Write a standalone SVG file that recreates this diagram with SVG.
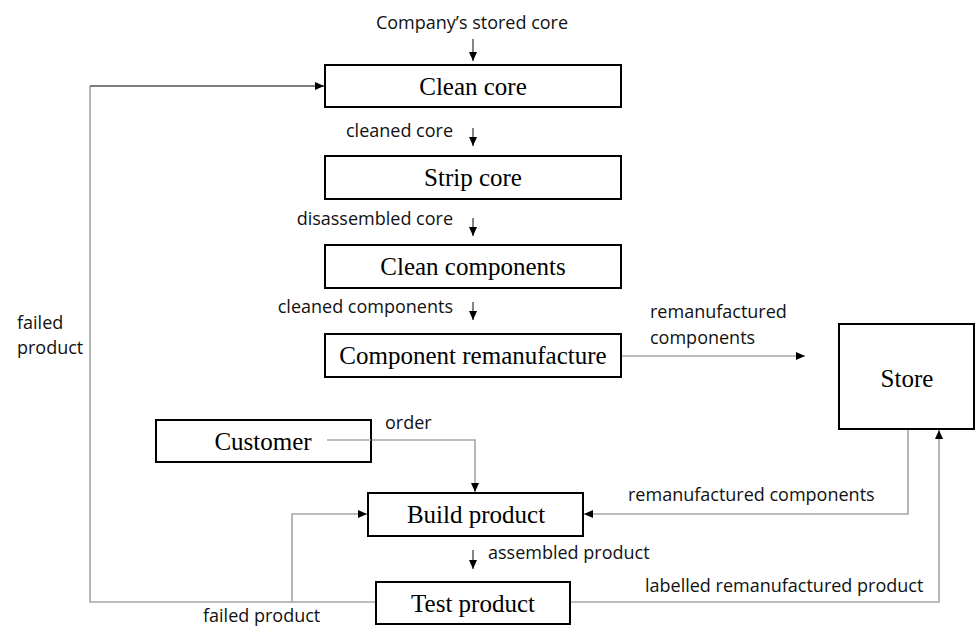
<svg xmlns="http://www.w3.org/2000/svg" width="975" height="629" viewBox="0 0 975 629">
<defs>
<marker id="ah" markerUnits="userSpaceOnUse" markerWidth="10" markerHeight="10" refX="9" refY="4" orient="auto">
<path d="M0,0 L9,4 L0,8 z" fill="#000"/>
</marker>
<style>
.box{fill:#fff;stroke:#000;stroke-width:2}
.nt{font-family:"Liberation Serif",serif;font-size:25px;fill:#000;text-anchor:middle}
.lb{font-family:"Open Sans",sans-serif;font-size:18px;fill:#111}
.c{fill:none;stroke:#a6a6a6;stroke-width:1.6}
.s{fill:none;stroke:#333;stroke-width:1.2}
.d{fill:none;stroke:#555;stroke-width:1.6}
</style>
</defs>
<rect width="975" height="629" fill="#fff"/>
<g id="connectors">
<line class="s" x1="473" y1="39" x2="473" y2="61" marker-end="url(#ah)"/>
<line class="s" x1="473" y1="128" x2="473" y2="146" marker-end="url(#ah)"/>
<line class="s" x1="473" y1="218" x2="473" y2="236" marker-end="url(#ah)"/>
<line class="s" x1="473" y1="302" x2="473" y2="320" marker-end="url(#ah)"/>
<line class="s" x1="473" y1="550" x2="473" y2="569" marker-end="url(#ah)"/>
<polyline class="c" points="621,356 805,356" marker-end="url(#ah)"/>
<polyline class="c" points="327,440 475,440 475,492" marker-end="url(#ah)"/>
<polyline class="c" points="908,429 908,514 584,514" marker-end="url(#ah)"/>
<polyline class="c" points="570,602 939,602 939,430" marker-end="url(#ah)"/>
<polyline class="c" points="376,602 90,602 90,86"/>
<line class="d" x1="90" y1="86" x2="324" y2="86" marker-end="url(#ah)"/>
<polyline class="c" points="292,602 292,514 367,514" marker-end="url(#ah)"/>
<text class="lb" x="472" y="29" text-anchor="middle">Company’s stored core</text>
<text class="lb" x="453" y="137" text-anchor="end">cleaned core</text>
<text class="lb" x="453" y="225" text-anchor="end">disassembled core</text>
<text class="lb" x="453" y="313" text-anchor="end">cleaned components</text>
<text class="lb" x="650" y="318">remanufactured</text>
<text class="lb" x="650" y="344">components</text>
<text class="lb" x="385" y="429">order</text>
<text class="lb" x="628" y="501">remanufactured components</text>
<text class="lb" x="488" y="559">assembled product</text>
<text class="lb" x="645" y="592">labelled remanufactured product</text>
<text class="lb" x="17" y="329">failed</text>
<text class="lb" x="17" y="354">product</text>
<text class="lb" x="203" y="622">failed product</text>
</g>
<g id="clean-core"><rect class="box" x="325" y="65" width="296" height="42"/><text class="nt" x="473" y="95">Clean core</text></g>
<g id="strip-core"><rect class="box" x="325" y="156" width="296" height="43"/><text class="nt" x="473" y="186">Strip core</text></g>
<g id="clean-components"><rect class="box" x="325" y="245" width="296" height="43"/><text class="nt" x="473" y="275">Clean components</text></g>
<g id="component-remanufacture"><rect class="box" x="325" y="334" width="296" height="43"/><text class="nt" x="473" y="364">Component remanufacture</text></g>
<g id="store"><rect class="box" x="839" y="324" width="135" height="105"/><text class="nt" x="907" y="387">Store</text></g>
<g id="customer"><rect class="box" x="156" y="420" width="215" height="42"/><text class="nt" x="263" y="450">Customer</text><line class="c" x1="327" y1="440" x2="371" y2="440"/></g>
<g id="build-product"><rect class="box" x="368" y="493" width="215" height="43"/><text class="nt" x="476" y="523">Build product</text></g>
<g id="test-product"><rect class="box" x="376" y="582" width="194" height="42"/><text class="nt" x="473" y="612">Test product</text></g>
</svg>
